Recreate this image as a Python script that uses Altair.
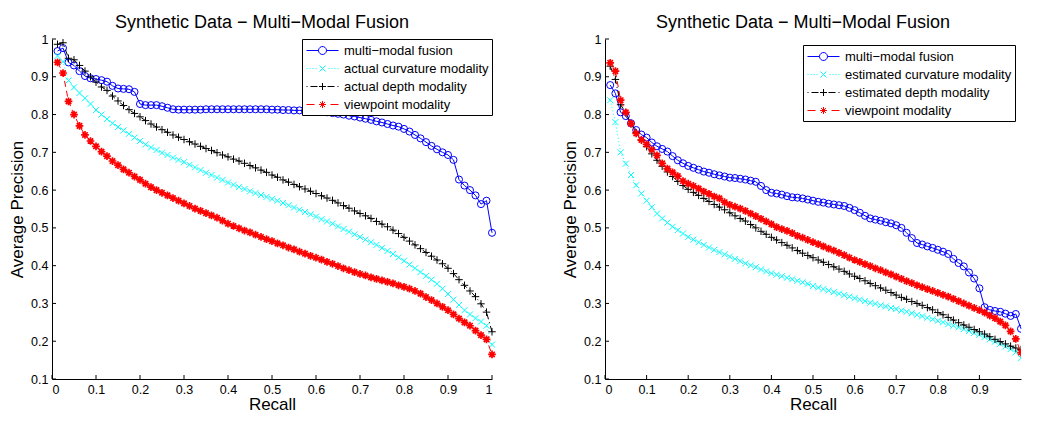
import math
import altair as alt
import pandas as pd

FONT = "Liberation Sans"

recall = [0.0125, 0.025, 0.0375, 0.05, 0.0625, 0.075, 0.0875, 0.1, 0.1125, 0.125,
          0.1375, 0.15, 0.1625, 0.175, 0.1875, 0.2, 0.2125, 0.225, 0.2375, 0.25,
          0.2625, 0.275, 0.2875, 0.3, 0.3125, 0.325, 0.3375, 0.35, 0.3625, 0.375,
          0.3875, 0.4, 0.4125, 0.425, 0.4375, 0.45, 0.4625, 0.475, 0.4875, 0.5,
          0.5125, 0.525, 0.5375, 0.55, 0.5625, 0.575, 0.5875, 0.6, 0.6125, 0.625,
          0.6375, 0.65, 0.6625, 0.675, 0.6875, 0.7, 0.7125, 0.725, 0.7375, 0.75,
          0.7625, 0.775, 0.7875, 0.8, 0.8125, 0.825, 0.8375, 0.85, 0.8625, 0.875,
          0.8875, 0.9, 0.9125, 0.925, 0.9375, 0.95, 0.9625, 0.975, 0.9875, 1.0]

# ---- left panel (actual modalities) ----
left_fusion = [0.968, 0.976, 0.938, 0.930, 0.915, 0.902, 0.896, 0.894, 0.891, 0.887,
               0.876, 0.869, 0.868, 0.867, 0.860, 0.828, 0.825, 0.825, 0.825, 0.822,
               0.818, 0.814, 0.813, 0.813, 0.813, 0.813, 0.813, 0.814, 0.814, 0.814,
               0.814, 0.814, 0.814, 0.814, 0.814, 0.814, 0.814, 0.814, 0.814, 0.813,
               0.813, 0.812, 0.812, 0.811, 0.811, 0.810, 0.809, 0.808, 0.807, 0.806,
               0.804, 0.802, 0.800, 0.797, 0.795, 0.792, 0.789, 0.786, 0.782, 0.779,
               0.775, 0.771, 0.768, 0.762, 0.755, 0.746, 0.737, 0.727, 0.717, 0.708,
               0.700, 0.693, 0.680, 0.628, 0.612, 0.600, 0.586, 0.563, 0.572, 0.487]
left_curv = [0.955, 0.940, 0.890, 0.872, 0.857, 0.843, 0.828, 0.812, 0.800, 0.788,
             0.777, 0.767, 0.758, 0.749, 0.739, 0.730, 0.721, 0.713, 0.706, 0.699,
             0.693, 0.686, 0.680, 0.674, 0.667, 0.660, 0.653, 0.646, 0.640, 0.633,
             0.627, 0.620, 0.614, 0.608, 0.603, 0.597, 0.592, 0.587, 0.582, 0.577,
             0.572, 0.566, 0.560, 0.554, 0.548, 0.542, 0.536, 0.530, 0.523, 0.517,
             0.511, 0.504, 0.497, 0.490, 0.483, 0.476, 0.469, 0.462, 0.455, 0.447,
             0.439, 0.431, 0.422, 0.413, 0.403, 0.393, 0.383, 0.373, 0.363, 0.352,
             0.339, 0.325, 0.310, 0.296, 0.282, 0.271, 0.261, 0.252, 0.241, 0.191]
left_depth = [0.986, 0.990, 0.949, 0.945, 0.930, 0.915, 0.900, 0.886, 0.873, 0.864,
              0.849, 0.836, 0.824, 0.813, 0.803, 0.794, 0.784, 0.775, 0.767, 0.760,
              0.753, 0.746, 0.740, 0.734, 0.728, 0.722, 0.716, 0.710, 0.705, 0.699,
              0.693, 0.688, 0.682, 0.677, 0.671, 0.665, 0.659, 0.653, 0.647, 0.640,
              0.634, 0.627, 0.621, 0.615, 0.609, 0.603, 0.597, 0.591, 0.585, 0.579,
              0.573, 0.566, 0.559, 0.552, 0.545, 0.538, 0.532, 0.525, 0.517, 0.510,
              0.503, 0.494, 0.485, 0.475, 0.465, 0.455, 0.445, 0.435, 0.425, 0.415,
              0.405, 0.393, 0.379, 0.363, 0.348, 0.333, 0.318, 0.299, 0.277, 0.225]
left_view = [0.938, 0.910, 0.835, 0.800, 0.770, 0.746, 0.730, 0.716, 0.702, 0.690,
             0.677, 0.666, 0.655, 0.646, 0.636, 0.627, 0.617, 0.608, 0.600, 0.593,
             0.586, 0.579, 0.572, 0.565, 0.558, 0.551, 0.545, 0.539, 0.533, 0.527,
             0.519, 0.511, 0.505, 0.499, 0.493, 0.488, 0.482, 0.476, 0.470, 0.465,
             0.459, 0.454, 0.448, 0.443, 0.437, 0.432, 0.426, 0.421, 0.416, 0.410,
             0.405, 0.399, 0.393, 0.388, 0.383, 0.378, 0.374, 0.369, 0.365, 0.361,
             0.357, 0.353, 0.348, 0.344, 0.339, 0.333, 0.326, 0.317, 0.309, 0.300,
             0.291, 0.282, 0.271, 0.260, 0.250, 0.241, 0.228, 0.216, 0.205, 0.165]

# ---- right panel (estimated modalities) ----
right_fusion = [0.878, 0.856, 0.806, 0.796, 0.777, 0.759, 0.747, 0.739, 0.726, 0.716,
                0.709, 0.702, 0.690, 0.679, 0.671, 0.664, 0.659, 0.654, 0.649, 0.646,
                0.642, 0.639, 0.636, 0.633, 0.632, 0.630, 0.628, 0.625, 0.622, 0.611,
                0.600, 0.593, 0.591, 0.588, 0.584, 0.581, 0.580, 0.578, 0.575, 0.572,
                0.569, 0.567, 0.564, 0.562, 0.560, 0.558, 0.553, 0.547, 0.540, 0.532,
                0.525, 0.522, 0.519, 0.515, 0.512, 0.507, 0.500, 0.487, 0.473, 0.460,
                0.456, 0.451, 0.447, 0.442, 0.437, 0.431, 0.418, 0.407, 0.398, 0.382,
                0.366, 0.340, 0.290, 0.283, 0.280, 0.278, 0.273, 0.267, 0.272, 0.233]
right_curv = [0.838, 0.780, 0.700, 0.670, 0.640, 0.613, 0.591, 0.572, 0.555, 0.538,
              0.525, 0.514, 0.503, 0.494, 0.485, 0.476, 0.469, 0.462, 0.455, 0.448,
              0.442, 0.436, 0.430, 0.424, 0.418, 0.412, 0.406, 0.401, 0.396, 0.390,
              0.385, 0.380, 0.376, 0.372, 0.368, 0.364, 0.360, 0.356, 0.352, 0.346,
              0.342, 0.338, 0.334, 0.330, 0.326, 0.322, 0.318, 0.314, 0.310, 0.306,
              0.302, 0.299, 0.295, 0.292, 0.288, 0.285, 0.281, 0.278, 0.274, 0.270,
              0.266, 0.262, 0.258, 0.254, 0.250, 0.245, 0.241, 0.237, 0.232, 0.227,
              0.222, 0.217, 0.211, 0.205, 0.199, 0.193, 0.186, 0.179, 0.171, 0.155]
right_depth = [0.928, 0.893, 0.826, 0.805, 0.776, 0.752, 0.732, 0.715, 0.696, 0.679,
               0.663, 0.648, 0.636, 0.623, 0.612, 0.602, 0.594, 0.586, 0.578, 0.570,
               0.562, 0.555, 0.548, 0.540, 0.532, 0.525, 0.518, 0.509, 0.500, 0.491,
               0.483, 0.475, 0.468, 0.461, 0.454, 0.447, 0.440, 0.433, 0.427, 0.421,
               0.415, 0.409, 0.403, 0.397, 0.391, 0.385, 0.378, 0.372, 0.366, 0.360,
               0.353, 0.347, 0.341, 0.335, 0.329, 0.322, 0.316, 0.311, 0.305, 0.300,
               0.295, 0.289, 0.283, 0.276, 0.270, 0.263, 0.256, 0.249, 0.243, 0.237,
               0.231, 0.225, 0.219, 0.212, 0.205, 0.199, 0.193, 0.187, 0.182, 0.178]
right_view = [0.937, 0.915, 0.838, 0.806, 0.776, 0.750, 0.733, 0.721, 0.707, 0.692,
              0.671, 0.657, 0.647, 0.637, 0.624, 0.617, 0.611, 0.604, 0.596, 0.590,
              0.583, 0.578, 0.568, 0.561, 0.556, 0.551, 0.545, 0.538, 0.531, 0.524,
              0.517, 0.510, 0.502, 0.497, 0.492, 0.486, 0.479, 0.474, 0.468, 0.462,
              0.457, 0.451, 0.445, 0.440, 0.434, 0.428, 0.421, 0.415, 0.410, 0.404,
              0.399, 0.393, 0.388, 0.382, 0.377, 0.371, 0.365, 0.359, 0.354, 0.348,
              0.343, 0.338, 0.333, 0.328, 0.323, 0.318, 0.312, 0.306, 0.300, 0.294,
              0.288, 0.282, 0.276, 0.268, 0.261, 0.252, 0.242, 0.226, 0.206, 0.170]

left_names = ["multi\u2212modal fusion", "actual curvature modality",
              "actual depth modality", "viewpoint modality"]
right_names = ["multi\u2212modal fusion", "estimated curvature modality",
               "estimated depth modality", "viewpoint modality"]

title_text = "Synthetic Data \u2212 Multi\u2212Modal Fusion"
x_ticks = [0, 0.1, 0.2, 0.3, 0.4, 0.5, 0.6, 0.7, 0.8, 0.9, 1.0]
x_ticks_right = [0, 0.1, 0.2, 0.3, 0.4, 0.5, 0.6, 0.7, 0.8, 0.9]
y_ticks = [0.1, 0.2, 0.3, 0.4, 0.5, 0.6, 0.7, 0.8, 0.9, 1.0]

# ---- styles ----
COLORS = ["#0000ff", "#00ffff", "#000000", "#ff0000"]
DASHES = [None, [1, 2.5], [6, 3, 1, 3], [6, 4]]
MARKERS = [
    "circle",
    "M-1,-1L1,1M-1,1L1,-1",
    "M-1,0L1,0M0,-1L0,1",
    "M-1,0L1,0M0,-1L0,1M-0.7,-0.7L0.7,0.7M-0.7,0.7L0.7,-0.7",
]
MSIZES = [50, 36, 56, 60]
MSTROKE = [1, 1, 1, 1.7]


def segs(pairs):
    return "".join(f"M{a},0L{b},0" for a, b in pairs)


def ring(cx, r, n=14):
    pts = [(cx + r * math.cos(2 * math.pi * k / n), r * math.sin(2 * math.pi * k / n))
           for k in range(n)]
    s = "M%.3f,%.3f" % pts[0]
    for p in pts[1:]:
        s += "L%.3f,%.3f" % p
    return s + "Z"


# legend glyphs: line sample with the marker in the middle (unit = 8 px)
LEGEND_SHAPES = [
    segs([(-0.875, 0.625), (1.625, 3.125)]) + ring(1.125, 0.5),
    segs([(-0.875, -0.75), (-0.5, -0.375), (-0.125, 0), (0.25, 0.375),
          (1.875, 2.0), (2.25, 2.375), (2.625, 2.75), (3.0, 3.125)])
    + "M0.75,-0.375L1.5,0.375M0.75,0.375L1.5,-0.375",
    segs([(-0.875, -0.75), (-0.375, 0.5), (0.6875, 1.5625), (1.75, 2.625), (3.0, 3.125)])
    + "M1.125,-0.4375L1.125,0.4375",
    segs([(-0.875, 0.125), (0.6875, 1.5625), (2.125, 3.125)])
    + "M1.125,-0.4375L1.125,0.4375M0.82,-0.31L1.43,0.31M0.82,0.31L1.43,-0.31",
]

W_LEFT = 440
W_RIGHT = 416
H = 340


def panel(names, series, xt, width, loff, clip_pts):
    rows = []
    for name, vals in zip(names, series):
        for r, p in zip(recall, vals):
            rows.append({"recall": r, "precision": p, "series": name})
    df = pd.DataFrame(rows)
    base = alt.Chart(df)

    xax = alt.Axis(values=xt, format="~g", title="Recall", titlePadding=1)
    yax = alt.Axis(values=y_ticks, format="~g", title="Average Precision", titlePadding=4)
    X = alt.X("recall:Q", scale=alt.Scale(domain=[0, 1], nice=False, zero=False), axis=xax)
    Y = alt.Y("precision:Q", scale=alt.Scale(domain=[0.1, 1], nice=False, zero=False), axis=yax)

    layers = []
    for i, name in enumerate(names):
        sub = base.transform_filter(alt.datum.series == name)
        lk = dict(color=COLORS[i], strokeWidth=1)
        if DASHES[i] is not None:
            lk["strokeDash"] = DASHES[i]
        layers.append(sub.mark_line(**lk).encode(x=X, y=Y))
        layers.append(
            sub.mark_point(shape=MARKERS[i], color=COLORS[i], size=MSIZES[i], clip=clip_pts,
                           filled=False, strokeWidth=MSTROKE[i], opacity=1).encode(x=X, y=Y)
        )

    leg = alt.Legend(title=None, orient="top-right", offset=loff,
                     padding=3, rowPadding=2, symbolSize=256, symbolStrokeWidth=1,
                     labelOffset=22, labelFont=FONT, labelFontSize=13, labelColor="black",
                     labelLimit=400, strokeColor="black", fillColor="white",
                     symbolOpacity=1, cornerRadius=0)
    # invisible (zero-size) marks that only carry the legend
    layers.append(
        base.mark_point(opacity=0, filled=False, size=0).encode(
            x=X, y=Y,
            color=alt.Color("series:N", scale=alt.Scale(domain=names, range=COLORS), legend=leg),
            shape=alt.Shape("series:N", scale=alt.Scale(domain=names, range=LEGEND_SHAPES), legend=leg),
        )
    )

    # inward tick marks (MATLAB style)
    ydf = pd.DataFrame({"precision": y_ticks})
    xdf = pd.DataFrame({"recall": xt})
    layers.append(alt.Chart(ydf).mark_rule(color="black", strokeWidth=1).encode(
        y=Y, x=alt.value(0), x2=alt.value(4)))
    layers.append(alt.Chart(xdf).mark_rule(color="black", strokeWidth=1).encode(
        x=X, y=alt.value(H), y2=alt.value(H - 4)))

    return alt.layer(*layers).properties(
        width=width, height=H,
        title=alt.TitleParams(text=title_text, font=FONT, fontSize=18, fontWeight="normal",
                              color="black", anchor="middle", dx=-10, offset=-13,
                              baseline="alphabetic"),
    )


left = panel(left_names, [left_fusion, left_curv, left_depth, left_view], x_ticks, W_LEFT, 0, False)
right = panel(right_names, [right_fusion, right_curv, right_depth, right_view], x_ticks_right,
              W_RIGHT, 6, True)

chart = alt.hconcat(left, right, spacing=61).resolve_scale(
    color="independent", shape="independent"
).resolve_legend(
    color="independent", shape="independent"
).properties(
    padding={"left": 0, "top": 6, "right": 0, "bottom": 0}
).configure_view(stroke=None).configure_axis(
    domainColor="black", domainWidth=1, ticks=False, grid=False,
    labelFont=FONT, labelFontSize=12.5, labelColor="black", labelPadding=4,
    titleFont=FONT, titleFontSize=17, titleFontWeight="normal", titleColor="black",
)

chart.save("out.html", embed_options={"renderer": "svg", "actions": False})
